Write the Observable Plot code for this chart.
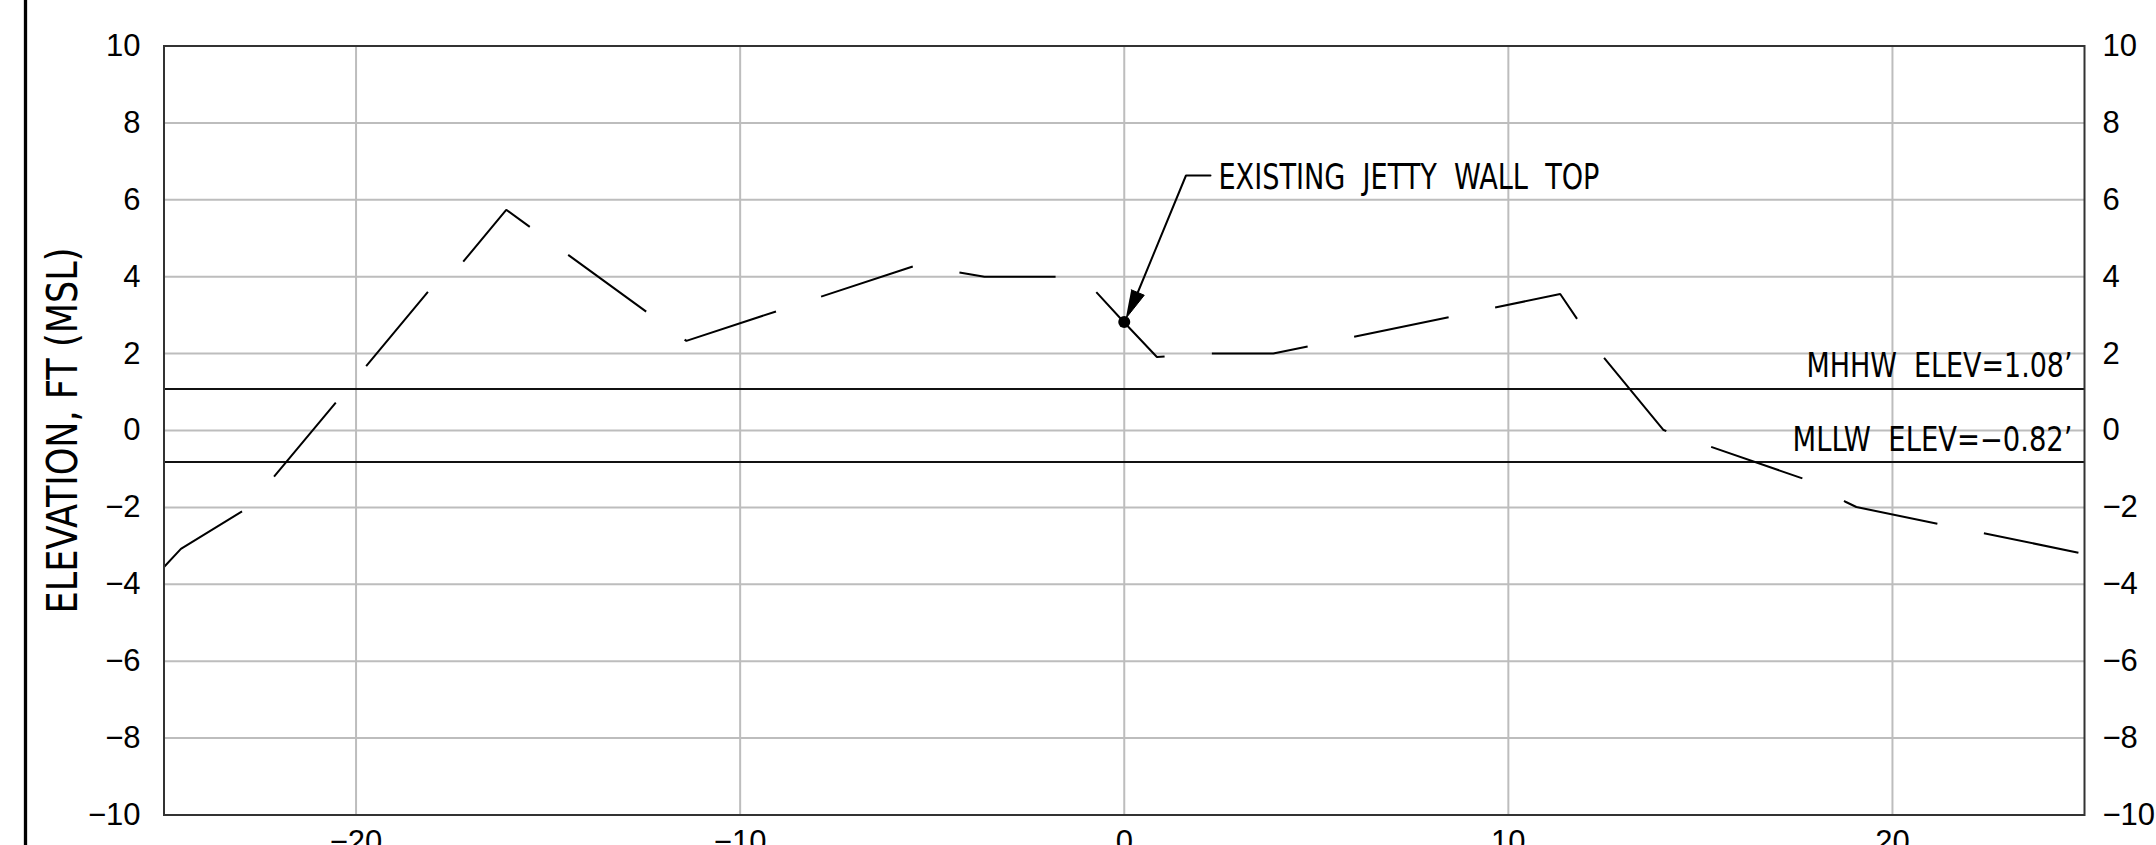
<!DOCTYPE html>
<html><head><meta charset="utf-8">
<script src="https://cdn.jsdelivr.net/npm/d3@7"></script>
<script src="https://cdn.jsdelivr.net/npm/@observablehq/plot@0.6"></script>
<style>html,body{margin:0;padding:0;background:#fff;overflow:hidden}</style>
</head><body><div id="chart"></div>
<script>
// Ground profile (station, ft  vs elevation, ft MSL)
const profileX = [-25, -24.56, -22.8, -17.9, -17.45, -16.09, -11.4, -5.4, -3.64, -1.1, 0, 0.85, 1.09, 1.5, 3.88, 11.35, 12.4, 14.03, 14.16, 17.9, 18.79, 19.06, 25];
const profileY = [-3.55, -3.08, -2.0, 3.88, 4.10, 5.74, 2.33, 4.3, 4.0, 4.0, 2.81, 1.91, 1.93, 2.0, 2.0, 3.55, 2.0, 0.02, -0.04, -1.33, -1.86, -1.99, -3.21];

// Tidal datums
const levelNames = ["MHHW\u00a0\u00a0ELEV=1.08\u2019", "MLLW\u00a0\u00a0ELEV=\u22120.82\u2019"];
const levelValues = [1.08, -0.82];

// Callout
const calloutLabel = "EXISTING\u00a0\u00a0JETTY\u00a0\u00a0WALL\u00a0\u00a0TOP";
const calloutX = [0];
const calloutY = [2.82];
const leaderX = [0.352, 1.607, 2.245];
const leaderY = [3.589, 6.632, 6.632];
const arrowX = [0.039, 0.521, 0.182];
const arrowY = [2.913, 3.519, 3.659];

// Axes
const xTicks = [-20, -10, 0, 10, 20];
const yTicks = [-10, -8, -6, -4, -2, 0, 2, 4, 6, 8, 10];
const yTitle = "ELEVATION, FT (MSL)";

const profile = profileX.map((x, i) => ({x, y: profileY[i]}));
const levels = levelNames.map((name, i) => ({name, value: levelValues[i]}));
const leader = leaderX.map((x, i) => ({x, y: leaderY[i]}));
const arrowHead = arrowX.map((x, i) => ({x, y: arrowY[i]}));
const callout = calloutX.map((x, i) => ({x, y: calloutY[i]}));
const calloutText = [{x: leaderX[2], y: leaderY[2], label: calloutLabel}];

const tickFont = "Liberation Sans, Arial, sans-serif";
const cadFont = "Liberation Sans Narrow, DejaVu Sans Condensed, Liberation Sans, sans-serif";
const titleLength = 366;

const chart = Plot.plot({
  width: 2156,
  height: 845,
  marginLeft: 163.5,
  marginRight: 72,
  marginTop: 45.5,
  marginBottom: 30.5,
  x: {domain: [-25, 25]},
  y: {domain: [-10, 10]},
  style: {fontFamily: tickFont, background: "#fff", color: "#000"},
  marks: [
    Plot.gridX(xTicks, {stroke: "#bdbdbd", strokeOpacity: 1, strokeWidth: 2}),
    Plot.gridY(yTicks, {stroke: "#bdbdbd", strokeOpacity: 1, strokeWidth: 2}),
    Plot.ruleY(levels, {y: "value", stroke: "#111", strokeWidth: 2}),
    Plot.line(profile, {x: "x", y: "y", stroke: "#000", strokeWidth: 2, strokeDasharray: "96.5,47.5", strokeLinecap: "butt", strokeLinejoin: "miter"}),
    Plot.line(leader, {x: "x", y: "y", stroke: "#000", strokeWidth: 2, strokeLinejoin: "miter"}),
    Plot.line(arrowHead, {x: "x", y: "y", stroke: "#000", fill: "#000", strokeWidth: 1}),
    Plot.dot(callout, {x: "x", y: "y", r: 6, fill: "#000", stroke: null}),
    Plot.text(calloutText, {x: "x", y: "y", text: "label", textAnchor: "start", lineAnchor: "middle", dx: 8, dy: 1.5, fontSize: 36, fontFamily: cadFont, fill: "#000"}),
    Plot.text(levels, {y: "value", text: "name", frameAnchor: "right", textAnchor: "end", lineAnchor: "bottom", dx: -12, dy: -11.5, fontSize: 33, fontFamily: cadFont, fill: "#000"}),
    Plot.axisX(xTicks, {tickSize: 0, tickPadding: 14.6, fontSize: 31, label: null, fill: "#000"}),
    Plot.axisY(yTicks, {anchor: "left", tickSize: 0, tickPadding: 23.5, fontSize: 31, label: null, fill: "#000"}),
    Plot.axisY(yTicks, {anchor: "right", tickSize: 0, tickPadding: 18, fontSize: 31, label: null, fill: "#000"}),
    Plot.text([yTitle], {text: d => d, frameAnchor: "left", rotate: -90, textAnchor: "start", dx: -100, dy: titleLength / 2, lineAnchor: "middle", fontSize: 42, fontFamily: cadFont, fill: "#000"}),
    Plot.ruleX([-25], {dx: -138.5, insetTop: -46, insetBottom: -31, stroke: "#000", strokeWidth: 3.3}),
    Plot.frame({stroke: "#333", strokeWidth: 2})
  ]
});

document.getElementById("chart").appendChild(chart);

// fit CAD-style label widths
const widths = new Map([[calloutLabel, 381], [levelNames[0], 266], [levelNames[1], 280], [yTitle, titleLength]]);
chart.querySelectorAll("text").forEach(t => {
  const w = widths.get(t.textContent);
  if (w) { t.setAttribute("textLength", w); t.setAttribute("lengthAdjust", "spacingAndGlyphs"); }
});
</script>
</body></html>
